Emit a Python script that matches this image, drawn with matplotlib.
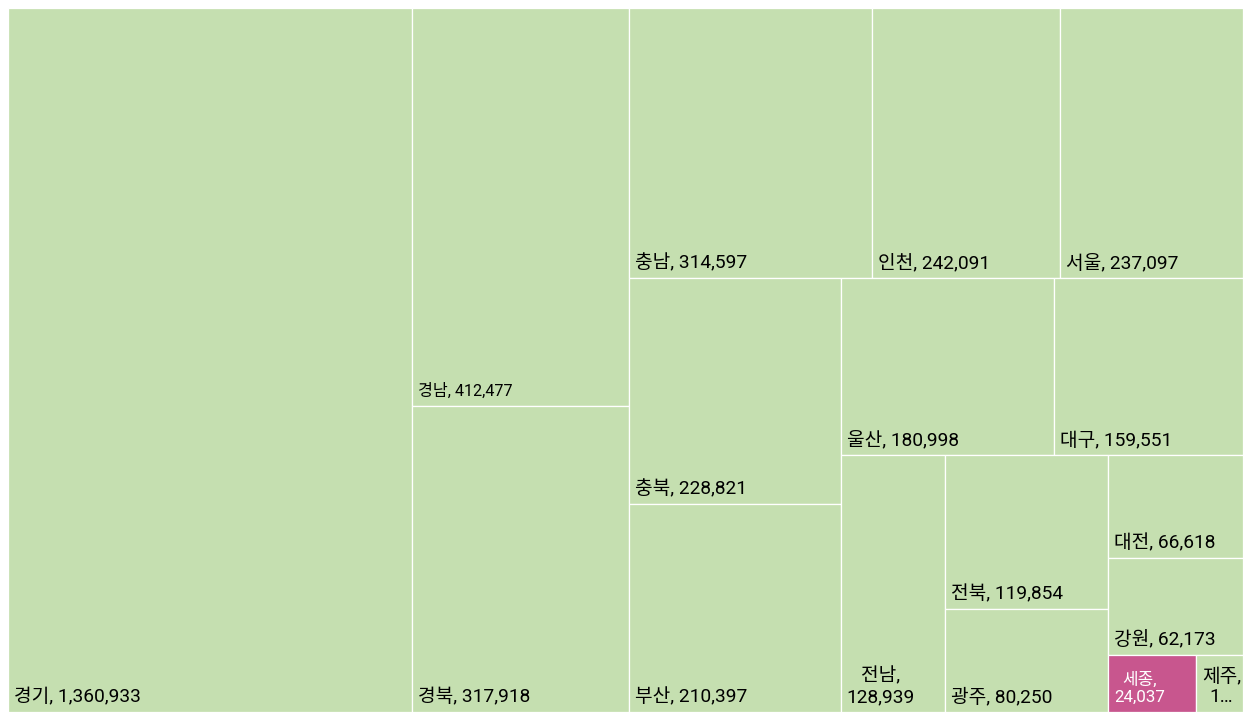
import matplotlib
matplotlib.use('Agg')
import matplotlib.pyplot as plt
from matplotlib.patches import Rectangle

# ---- data ----
regions = ['경기', '경남', '경북', '충남', '인천', '서울', '충북', '부산', '울산',
           '대구', '전남', '전북', '광주', '대전', '강원', '세종', '제주']
values = [1360933, 412477, 317918, 314597, 242091, 237097, 228821, 210397, 180998,
          159551, 128939, 119854, 80250, 66618, 62173, 24037, 12900]
highlight = '세종'

# ---- style ----
BASE = '#c5dfb0'
HIGH = '#c8568e'
FONT = ['Roboto', 'Noto Sans CJK KR', 'DejaVu Sans']
NORMAL_PT = 13.8
SMALL_PT = {'경남': 11.6, '세종': 12.2}

FIG_W, FIG_H, DPI = 1252, 720, 100
L0, T0, R0, B0 = 8, 8, 1243, 712
W, H = R0 - L0, B0 - T0


def squarify(vals, x, y, w, h, target=0.79):
    total = float(sum(vals))
    areas = [v * w * h / total for v in vals]
    rects = []
    i = 0
    while i < len(areas):
        column = w >= h
        L = h if column else w

        def worst(row):
            S = sum(row)
            thick = S / L
            m = 0.0
            for a in row:
                length = a / thick
                cw, ch = (thick, length) if column else (length, thick)
                r = (cw / ch) / target
                m = max(m, r, 1.0 / r)
            return m

        row = [areas[i]]
        j = i + 1
        best = worst(row)
        while j < len(areas):
            cand = row + [areas[j]]
            s = worst(cand)
            if s > best:
                break
            row, best = cand, s
            j += 1
        S = sum(row)
        thick = S / L
        pos = y if column else x
        for a in row:
            length = a / thick
            if column:
                rects.append((x, pos, thick, length))
            else:
                rects.append((pos, y, length, thick))
            pos += length
        if column:
            x += thick
            w -= thick
        else:
            y += thick
            h -= thick
        i = j
    return rects


fig = plt.figure(figsize=(FIG_W / DPI, FIG_H / DPI), dpi=DPI)
ax = fig.add_axes([L0 / FIG_W, 1 - B0 / FIG_H, W / FIG_W, H / FIG_H])
ax.set_xlim(0, W)
ax.set_ylim(H, 0)
ax.axis('off')

rects = squarify(values, 0, 0, W, H)
renderer = fig.canvas.get_renderer()
PAD_X, PAD_B = 6, 10

for name, val, (x, y, w, h) in zip(regions, values, rects):
    is_hi = name == highlight
    ax.add_patch(Rectangle((x, y), w, h, facecolor=HIGH if is_hi else BASE,
                           edgecolor='white', linewidth=0.9))
    size = SMALL_PT.get(name, NORMAL_PT)
    color = 'white' if is_hi else '#000000'
    avail = w - 2 * PAD_X
    label = f'{name}, {val:,}'
    t = ax.text(x + PAD_X, y + h - PAD_B, label, fontsize=size, family=FONT,
                color=color, ha='left', va='baseline', multialignment='center',
                linespacing=1.2)
    if t.get_window_extent(renderer).width > avail:
        first, second = f'{name},', f'{val:,}'

        def width_of(s):
            t.set_text(s)
            return t.get_window_extent(renderer).width

        if width_of(second) > avail:
            k = len(second) - 1
            while k > 1 and width_of(second[:k] + '…') > avail - 8:
                k -= 1
            second = second[:k] + '…'
        t.set_text(first + '\n' + second)

fig.savefig('out.png', dpi=DPI)
